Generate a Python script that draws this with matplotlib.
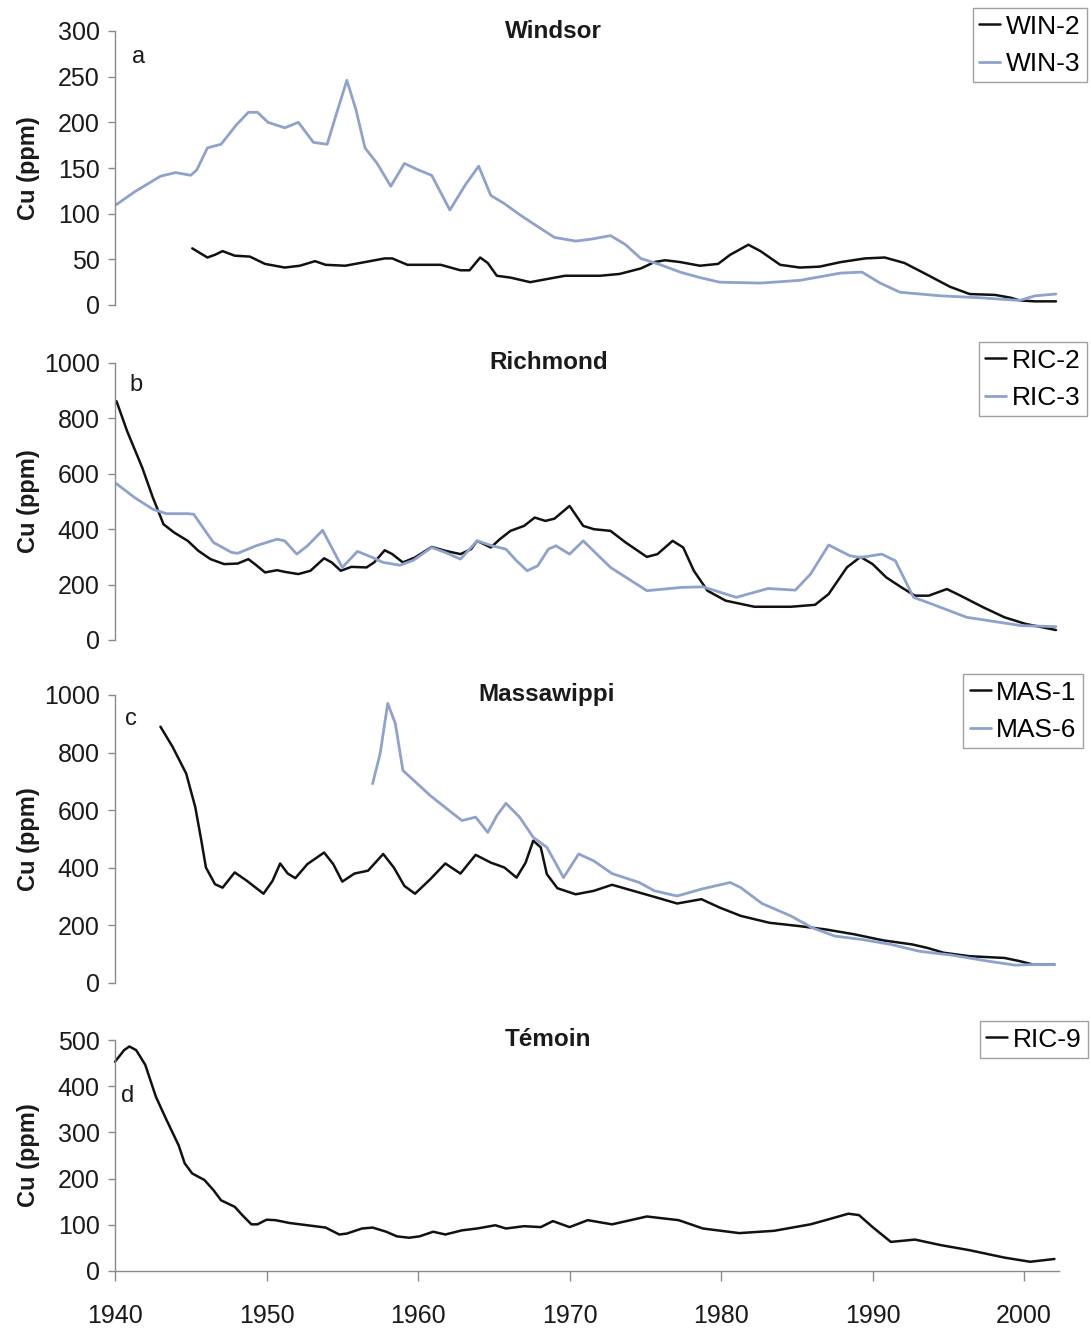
import matplotlib
matplotlib.use("Agg")
import matplotlib.pyplot as plt

plt.rcParams['font.family'] = ['Liberation Sans', 'DejaVu Sans']

# Windsor cores
win2_year = [1945.1, 1946.1, 1946.6, 1947.1, 1947.9, 1948.9, 1949.9, 1951.2, 1952.2, 1953.2,
             1953.9, 1955.2, 1956.5, 1957.8, 1958.3, 1959.3, 1961.5, 1962.8, 1963.4, 1964.1,
             1964.6, 1965.2, 1966.1, 1967.4, 1968.7, 1969.7, 1972.0, 1973.3, 1974.7, 1975.6,
             1976.3, 1977.3, 1978.6, 1979.8, 1980.6, 1981.8, 1982.6, 1983.9, 1985.2, 1986.5,
             1987.9, 1989.5, 1990.8, 1992.1, 1993.5, 1995.1, 1996.4, 1998.1, 1999.1, 1999.7,
             2000.7, 2002.1]
win2_cu = [62, 52, 55, 59, 54, 53, 45, 41, 43, 48, 44, 43, 47, 51, 51, 44, 44, 38, 38, 52,
           46, 32, 30, 25, 29, 32, 32, 34, 40, 47, 49, 47, 43, 45, 55, 66, 59, 44, 41, 42,
           47, 51, 52, 46, 34, 20, 12, 11, 8, 5, 4, 4]

win3_year = [1940.1, 1941.3, 1943.0, 1944.0, 1945.0, 1945.4, 1946.1, 1947.0, 1948.0, 1948.8,
             1949.4, 1950.1, 1951.2, 1952.1, 1953.1, 1954.0, 1954.7, 1955.3, 1955.9, 1956.5,
             1957.3, 1958.2, 1959.1, 1960.0, 1960.9, 1962.1, 1963.1, 1964.0, 1964.8, 1965.7,
             1966.7, 1967.7, 1969.0, 1970.4, 1971.4, 1972.7, 1973.7, 1974.7, 1976.0, 1977.3,
             1978.6, 1979.9, 1982.6, 1985.2, 1987.9, 1989.3, 1990.5, 1991.8, 1994.5, 1997.0,
             1999.7, 2000.7, 2002.1]
win3_cu = [110, 124, 141, 145, 142, 148, 172, 176, 197, 211, 211, 200, 194, 200, 178, 176,
           214, 246, 214, 172, 155, 130, 155, 148, 142, 104, 131, 152, 120, 111, 99, 88, 74,
           70, 72, 76, 66, 51, 44, 36, 30, 25, 24, 27, 35, 36, 24, 14, 10, 8, 5, 10, 12]

# Richmond cores
ric2_year = [1940.1, 1940.8, 1941.8, 1942.5, 1943.2, 1943.9, 1944.8, 1945.5, 1946.3, 1947.2,
             1948.1, 1948.8, 1949.3, 1949.9, 1950.7, 1951.2, 1952.1, 1952.9, 1953.8, 1954.3,
             1954.9, 1955.6, 1956.6, 1957.1, 1957.8, 1958.3, 1959.0, 1959.8, 1960.9, 1961.8,
             1962.8, 1963.5, 1963.9, 1964.8, 1965.4, 1966.1, 1967.0, 1967.7, 1968.4, 1969.0,
             1970.0, 1970.9, 1971.6, 1972.7, 1973.7, 1975.1, 1975.8, 1976.8, 1977.5, 1978.2,
             1979.1, 1980.3, 1982.2, 1984.6, 1986.2, 1987.1, 1988.3, 1989.2, 1990.0, 1990.9,
             1991.9, 1992.8, 1993.7, 1994.9, 1995.8, 1997.3, 1998.7, 2000.1, 2002.1]
ric2_cu = [862, 754, 622, 514, 418, 388, 358, 322, 292, 274, 276, 292, 271, 244, 252, 246,
           238, 250, 295, 280, 250, 264, 262, 280, 324, 310, 280, 298, 336, 322, 310, 328,
           358, 334, 364, 394, 412, 442, 430, 438, 484, 412, 400, 394, 352, 300, 310, 358,
           334, 250, 178, 142, 120, 120, 127, 166, 262, 300, 274, 226, 190, 160, 160, 184,
           160, 118, 82, 58, 36]

ric3_year = [1940.1, 1941.3, 1942.5, 1943.4, 1944.8, 1945.2, 1945.8, 1946.5, 1947.7, 1948.1,
             1949.3, 1950.7, 1951.2, 1952.0, 1952.7, 1953.7, 1954.3, 1955.0, 1956.0, 1956.9,
             1957.7, 1958.8, 1959.7, 1960.9, 1961.8, 1962.8, 1963.9, 1964.9, 1965.8, 1966.5,
             1967.2, 1967.9, 1968.6, 1969.1, 1970.0, 1970.9, 1972.7, 1975.1, 1977.4, 1978.8,
             1981.0, 1983.1, 1984.9, 1985.9, 1987.1, 1988.5, 1989.2, 1990.6, 1991.5, 1992.7,
             1993.9, 1996.2, 1999.8, 2002.1]
ric3_cu = [564, 514, 472, 456, 456, 454, 406, 352, 316, 313, 340, 364, 358, 310, 340, 396,
           334, 262, 320, 300, 280, 270, 288, 334, 316, 292, 358, 340, 328, 286, 250, 268,
           328, 340, 310, 358, 262, 178, 190, 192, 154, 186, 180, 238, 343, 304, 298, 310,
           286, 154, 130, 82, 52, 48]

# Massawippi cores
mas1_year = [1943.0, 1943.8, 1944.7, 1945.3, 1945.7, 1946.0, 1946.6, 1947.1, 1947.9, 1948.7,
             1949.8, 1950.4, 1950.9, 1951.4, 1951.9, 1952.7, 1953.8, 1954.4, 1955.0, 1955.8,
             1956.7, 1957.7, 1958.4, 1959.1, 1959.8, 1960.8, 1961.8, 1962.8, 1963.8, 1964.8,
             1965.7, 1966.5, 1967.1, 1967.6, 1968.1, 1968.5, 1969.2, 1970.4, 1971.6, 1972.8,
             1974.2, 1975.6, 1977.1, 1978.7, 1979.9, 1981.3, 1983.2, 1985.1, 1986.9, 1988.8,
             1990.7, 1992.6, 1993.6, 1994.7, 1996.4, 1998.7, 1999.7, 2000.6, 2002.0]
mas1_cu = [890, 820, 727, 610, 494, 401, 343, 331, 384, 355, 310, 355, 415, 380, 364, 413,
           453, 413, 352, 380, 390, 448, 401, 337, 310, 360, 415, 380, 445, 418, 401, 366,
           418, 494, 471, 378, 329, 308, 320, 341, 320, 299, 276, 291, 262, 233, 209, 198,
           186, 169, 148, 134, 122, 105, 93, 87, 76, 64, 64]

mas6_year = [1957.0, 1957.5, 1958.0, 1958.5, 1959.0, 1959.6, 1960.8, 1961.9, 1962.9, 1963.8,
             1964.6, 1965.2, 1965.8, 1966.7, 1967.6, 1968.5, 1969.0, 1969.6, 1970.6, 1971.6,
             1972.8, 1974.6, 1975.6, 1977.1, 1978.7, 1980.6, 1981.3, 1982.7, 1984.6, 1986.0,
             1987.5, 1989.3, 1991.2, 1993.1, 1995.2, 1997.6, 1999.4, 2000.6, 2002.0]
mas6_cu = [692, 797, 971, 901, 738, 709, 651, 605, 564, 576, 523, 581, 624, 576, 506, 471,
           424, 366, 448, 424, 380, 349, 320, 302, 326, 349, 331, 276, 233, 192, 163, 151,
           134, 110, 97, 76, 62, 64, 64]

# control core
ric9_year = [1940.0, 1940.6, 1940.95, 1941.4, 1942.0, 1942.7, 1943.4, 1944.2, 1944.6, 1945.1,
             1945.9, 1946.5, 1947.0, 1947.9, 1948.4, 1949.0, 1949.4, 1950.0, 1950.6, 1951.5,
             1952.7, 1953.9, 1954.8, 1955.3, 1956.3, 1957.0, 1957.9, 1958.6, 1959.4, 1960.1,
             1961.0, 1961.8, 1962.9, 1963.9, 1965.1, 1965.8, 1967.0, 1968.1, 1968.9, 1970.0,
             1971.2, 1972.8, 1975.1, 1977.2, 1978.8, 1981.2, 1983.5, 1985.9, 1987.0, 1988.4,
             1989.1, 1990.0, 1991.2, 1992.8, 1994.5, 1996.4, 1998.7, 2000.4, 2002.0]
ric9_cu = [453, 478, 486, 478, 446, 377, 327, 272, 233, 211, 197, 175, 153, 139, 121, 101,
           101, 111, 110, 104, 99, 94, 79, 81, 92, 94, 85, 75, 72, 75, 85, 79, 88, 92, 99,
           92, 97, 95, 108, 95, 110, 101, 118, 110, 92, 82, 87, 101, 111, 124, 121, 95, 63,
           68, 56, 45, 29, 20, 26]

BLACK = '#111111'
BLUE = '#8ea2cc'
SPINE = '#8a8a8a'
TEXT = '#1a1a1a'

W, H = 1091, 1329
fig = plt.figure(figsize=(W / 100, H / 100), dpi=100)

left = 115 / W
width = 944 / W

# (top px, bottom px, ymax, ystep, title, letter, series, legend corner, letter pos, title x)
panels = [
    (31, 305, 300, 50, 'Windsor', 'a',
     [(win2_year, win2_cu, BLACK, 'WIN-2'), (win3_year, win3_cu, BLUE, 'WIN-3')],
     (1087, 8), (139, 57), 553),
    (363, 640, 1000, 200, 'Richmond', 'b',
     [(ric2_year, ric2_cu, BLACK, 'RIC-2'), (ric3_year, ric3_cu, BLUE, 'RIC-3')],
     (1087, 342), (136, 385), 549),
    (695, 983, 1000, 200, 'Massawippi', 'c',
     [(mas1_year, mas1_cu, BLACK, 'MAS-1'), (mas6_year, mas6_cu, BLUE, 'MAS-6')],
     (1083, 674), (131, 719), 547),
    (1040, 1271, 500, 100, 'Témoin', 'd',
     [(ric9_year, ric9_cu, BLACK, 'RIC-9')],
     (1088, 1021), (128, 1096), 548),
]

for i, (top, bot, ymax, ystep, title, letter, series, leg_xy, let_xy, title_x) in enumerate(panels):
    ax = fig.add_axes([left, 1 - bot / H, width, (bot - top) / H])
    for x, y, c, lab in series:
        ax.plot(x, y, color=c, lw=1.8 if c == BLACK else 2.0, label=lab,
                solid_joinstyle='round', solid_capstyle='round', clip_on=False)
    ax.set_xlim(1940, 2002.3)
    ax.set_ylim(0, ymax)
    ax.set_yticks(range(0, ymax + 1, ystep))
    for s in ('top', 'right'):
        ax.spines[s].set_visible(False)
    ax.spines['left'].set_color(SPINE)
    ax.spines['left'].set_linewidth(1.0)
    ax.tick_params(axis='y', direction='out', length=5, width=1.0, color=SPINE,
                   labelsize=18, labelcolor=TEXT, pad=6)
    if i == len(panels) - 1:
        ax.spines['bottom'].set_color(SPINE)
        ax.spines['bottom'].set_linewidth(1.0)
        ax.set_xticks(range(1940, 2001, 10))
        ax.tick_params(axis='x', direction='out', length=7, width=1.0, color=SPINE,
                       labelsize=18, labelcolor=TEXT, pad=17)
    else:
        ax.spines['bottom'].set_visible(False)
        ax.set_xticks([])

    fig.text(title_x / W, 1 - top / H, title, ha='center', va='center',
             fontsize=17.5, fontweight='bold', color=TEXT)
    fig.text(let_xy[0] / W, 1 - let_xy[1] / H, letter, ha='center', va='center',
             fontsize=17, color=TEXT)
    fig.text(28 / W, 1 - (top + bot) / 2 / H, 'Cu (ppm)', rotation=90, ha='center',
             va='center', fontsize=17, fontweight='bold', color=TEXT)

    leg = ax.legend(loc='upper right', bbox_to_anchor=(leg_xy[0] / W, 1 - leg_xy[1] / H),
                    bbox_transform=fig.transFigure, fontsize=19, frameon=True,
                    fancybox=False, edgecolor=SPINE, handlelength=0.8,
                    handletextpad=0.2, borderpad=0.25, labelspacing=0.5,
                    borderaxespad=0)
    leg.get_frame().set_linewidth(1.0)

fig.savefig('out.png', dpi=100)
